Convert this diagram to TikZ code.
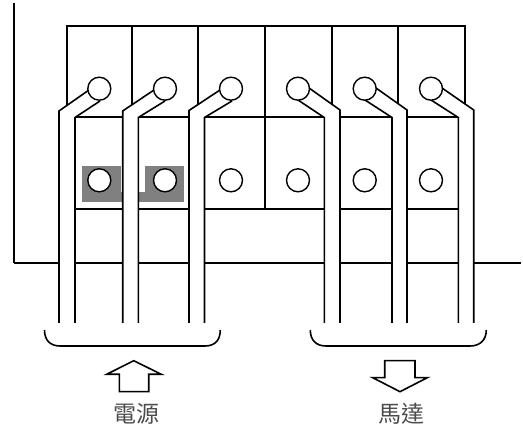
\documentclass[tikz,border=0pt]{standalone}
\usepackage{fontspec}
\newfontfamily\cjkfont{Noto Sans CJK TC}
\definecolor{plategray}{rgb}{0.5,0.5,0.5}
\definecolor{labeltext}{rgb}{0.3,0.3,0.3}
\begin{document}
\begin{tikzpicture}[line cap=butt,line join=miter,x=1pt,y=-1pt,
  every path/.style={line width=1.6pt},
  wire/.style={fill=white,draw=none},
  terminal/.style={draw,fill=white,line width=1.4pt},
  every node/.style={font=\cjkfont\fontsize{23}{23}\selectfont,text=labeltext}]
\useasboundingbox (0,0) rectangle (523,435);
\draw (14,3) -- (14,263);
\draw (14,263) -- (521,263);
\draw (67,117) -- (67,26) -- (465,26) -- (465,117);
\draw (132,26) -- (132,117);
\draw (198,26) -- (198,117);
\draw (265,26) -- (265,209);
\draw (332,26) -- (332,117);
\draw (398,26) -- (398,117);
\draw (75,117) -- (458,117);
\draw (75,209) -- (458,209);
\fill [color=plategray] (82,166) rectangle (121,202);
\fill [color=plategray] (145,166) rectangle (184,202);
\fill [color=plategray] (121,192) rectangle (145,202);
\draw [terminal] (99.3,180.3) circle (11.5);
\draw [terminal] (165,180.3) circle (11.5);
\draw [terminal] (231,180.3) circle (11.5);
\draw [terminal] (298,180.3) circle (11.5);
\draw [terminal] (364.7,180.3) circle (11.5);
\draw [terminal] (431,180.3) circle (11.5);
\fill [wire] (59,323) -- (59,111) -- (89,90) -- (100,101) -- (75,117.5) -- (75,323) -- cycle;
\draw (59,323) -- (59,111) -- (89,90);
\draw (75,323) -- (75,117.5) -- (100,101);
\fill [wire] (122.7,323) -- (122.7,111) -- (154,90) -- (165,101) -- (138.3,117.5) -- (138.3,323) -- cycle;
\draw (122.7,323) -- (122.7,111) -- (154,90);
\draw (138.3,323) -- (138.3,117.5) -- (165,101);
\fill [wire] (189,323) -- (189,110.5) -- (220,90) -- (232,101) -- (204.5,117.5) -- (204.5,323) -- cycle;
\draw (189,323) -- (189,110.5) -- (220,90);
\draw (204.5,323) -- (204.5,117.5) -- (232,101);
\fill [wire] (340,323) -- (340,110) -- (309,88) -- (298,100) -- (324.3,117.5) -- (324.3,323) -- cycle;
\draw (340,323) -- (340,110) -- (309,88);
\draw (324.3,323) -- (324.3,117.5) -- (298,100);
\fill [wire] (407,323) -- (407,110) -- (376,88) -- (365,100) -- (392,117.5) -- (392,323) -- cycle;
\draw (407,323) -- (407,110) -- (376,88);
\draw (392,323) -- (392,117.5) -- (365,100);
\fill [wire] (473.7,323) -- (473.7,110) -- (442,88) -- (431,100) -- (458.3,117.5) -- (458.3,323) -- cycle;
\draw (473.7,323) -- (473.7,110) -- (442,88);
\draw (458.3,323) -- (458.3,117.5) -- (431,100);
\draw [terminal] (99.3,88.7) circle (11.5);
\draw [terminal] (165,88.7) circle (11.5);
\draw [terminal] (231,88.7) circle (11.5);
\draw [terminal] (298,88.7) circle (11.5);
\draw [terminal] (364.7,88.7) circle (11.5);
\draw [terminal] (431,88.7) circle (11.5);
\draw (44.5,330) .. controls (44.5,340) and (50,346) .. (60,346) -- (205,346) .. controls (215,346) and (220.3,340) .. (220.3,330);
\draw (310.3,330) .. controls (310.3,340) and (316,346) .. (326,346) -- (470,346) .. controls (480,346) and (486.3,340) .. (486.3,330);
\draw (133.7,360.7) -- (161.3,374.3) -- (148.7,374.3) -- (148.7,391.7) -- (119.3,391.7) -- (119.3,374.3) -- (106.7,374.3) -- cycle;
\draw (384.7,360.7) -- (415,360.7) -- (415,377.7) -- (427.3,377.7) -- (400,391.7) -- (372.7,377.7) -- (384.7,377.7) -- cycle;
\node (power) at (136,414) {電源};
\node (motor) at (401,414) {馬達};
\end{tikzpicture}
\end{document}
